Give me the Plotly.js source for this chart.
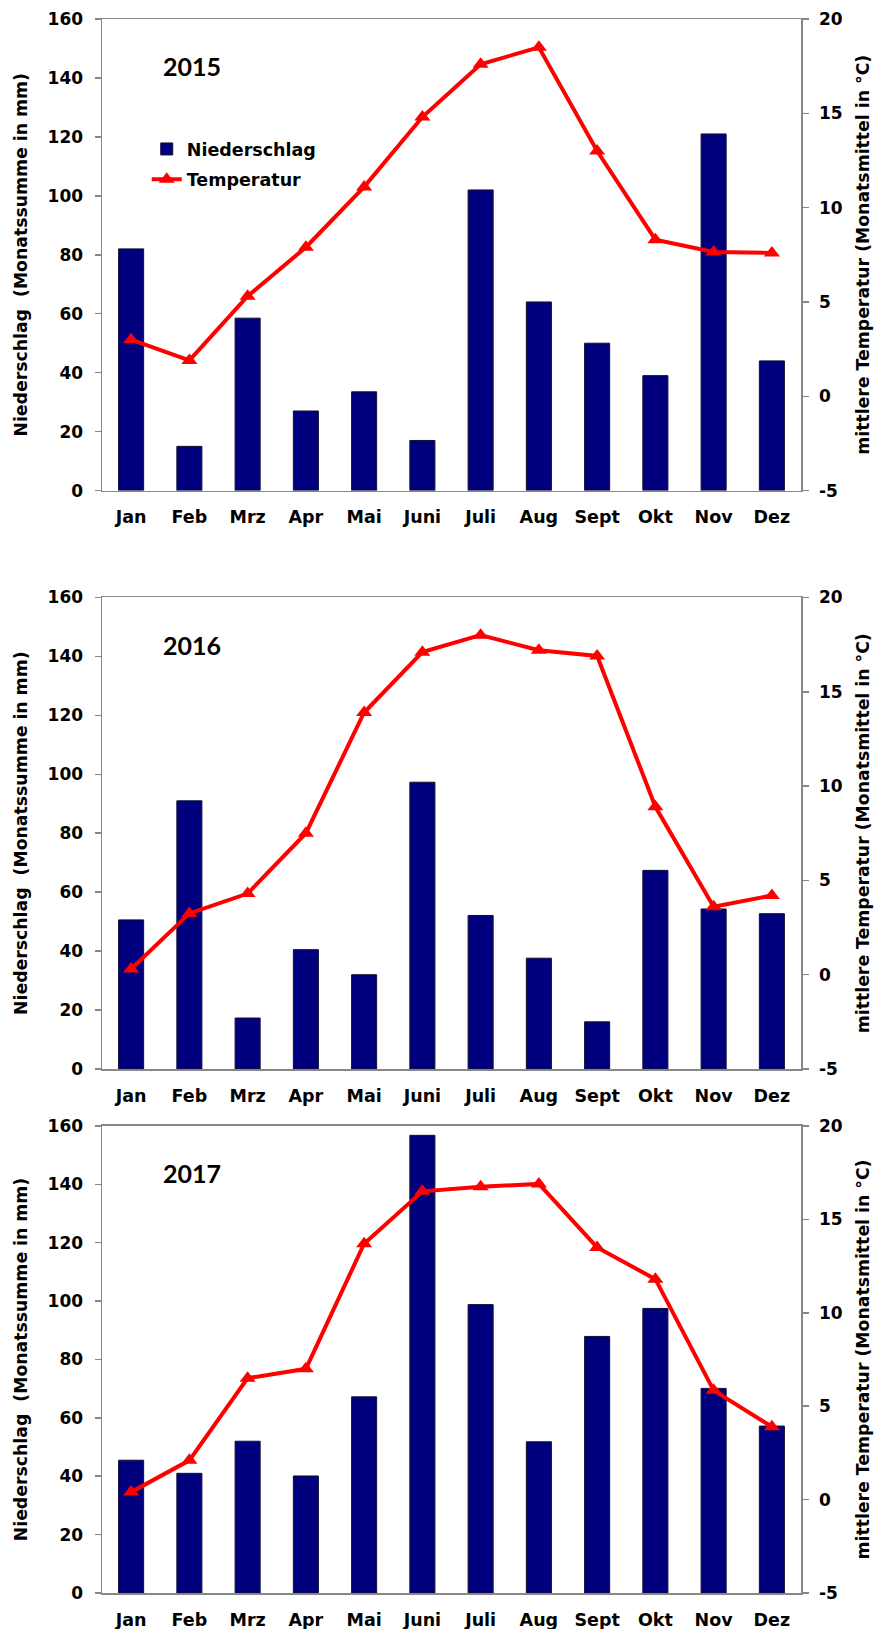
<!DOCTYPE html>
<html><head><meta charset="utf-8">
<script src="https://cdn.plot.ly/plotly-3.0.1.min.js"></script>
<style>html,body{margin:0;padding:0;background:#fff}</style>
</head><body><div id="chart" style="width:876px;height:1629px"></div>
<script>
const months = ['Jan','Feb','Mrz','Apr','Mai','Juni','Juli','Aug','Sept','Okt','Nov','Dez'];
const years = ['2015','2016','2017'];
const precip2015 = [82, 15, 58.5, 27, 33.5, 17, 102, 64, 50, 39, 121, 44];
const temp2015 = [3.0, 1.9, 5.3, 7.9, 11.1, 14.8, 17.6, 18.5, 13.0, 8.3, 7.65, 7.6];
const precip2016 = [50.6, 91, 17.3, 40.5, 32, 97.3, 52.1, 37.6, 16, 67.4, 54.3, 52.7];
const temp2016 = [0.3, 3.25, 4.3, 7.5, 13.9, 17.1, 18.0, 17.2, 16.9, 8.9, 3.6, 4.2];
const precip2017 = [45.5, 41, 52, 40.1, 67.2, 156.8, 98.8, 51.8, 87.9, 97.5, 70.1, 57.2];
const temp2017 = [0.4, 2.1, 6.5, 7.0, 13.7, 16.5, 16.75, 16.9, 13.5, 11.8, 5.85, 3.9];
const precip = [precip2015, precip2016, precip2017];
const temp = [temp2015, temp2016, temp2017];
const precipTicks = [0, 20, 40, 60, 80, 100, 120, 140, 160];
const tempTicks = [-5, 0, 5, 10, 15, 20];
const tempTickText = ['-5', '0', '5', '10', '15', '20'];
const leftTitle = 'Niederschlag  (Monatssumme in mm)';
const rightTitle = 'mittlere Temperatur (Monatsmittel in °C)';
const barName = 'Niederschlag';
const lineName = 'Temperatur';

const FONT = 'DejaVu Sans';
const axisGray = '#878787';
const domains = [[0.7004, 1], [0.3329, 0.6325], [0, 0.2967]];

const data = [];
const layout = {
  width: 876, height: 1629,
  margin: {l: 102, r: 75, t: 19, b: 36},
  paper_bgcolor: '#fff', plot_bgcolor: '#fff',
  bargap: 0.57,
  font: {family: FONT, size: 17.5, color: '#000', weight: 'bold'},
  showlegend: true,
  legend: {
    x: 0.064, y: 0.9288, xanchor: 'left', yanchor: 'top',
    bgcolor: 'rgba(0,0,0,0)', traceorder: 'grouped', tracegroupgap: 4.5,
    font: {family: FONT, size: 17.5, weight: 'bold', color: '#000'}
  },
  annotations: []
};

for (let i = 0; i < 3; i++) {
  const n = i === 0 ? '' : String(2 * i + 1);
  const n2 = String(2 * i + 2);
  const xa = 'x' + (i === 0 ? '' : String(i + 1));
  const ya = 'y' + n;
  const ya2 = 'y' + n2;
  data.push({
    type: 'bar', x: months, y: precip[i], name: barName,
    xaxis: xa, yaxis: ya, legendgroup: 'p', showlegend: i === 0,
    marker: {color: '#00007e', line: {color: '#101030', width: 1}}
  });
  data.push({
    type: 'scatter', mode: 'lines+markers', x: months, y: temp[i], name: lineName,
    xaxis: xa, yaxis: ya2, legendgroup: 't', showlegend: i === 0,
    line: {color: '#ff0000', width: 4},
    marker: {symbol: 'triangle-up', size: 14, color: '#ff0000'}
  });
  const xk = 'xaxis' + (i === 0 ? '' : String(i + 1));
  layout[xk] = {
    domain: [0, 1], anchor: ya, type: 'category', range: [-0.5, 11.5],
    showline: true, linecolor: axisGray, linewidth: 1.5, mirror: true,
    ticks: '', showgrid: false, zeroline: false, ticklabelstandoff: 10,
    tickfont: {family: FONT, size: 17.5, weight: 'bold', color: '#000'}
  };
  layout['yaxis' + n] = {
    domain: domains[i], anchor: xa, range: [0, 160],
    tickmode: 'array', tickvals: precipTicks,
    showline: true, linecolor: axisGray, linewidth: 1.5,
    ticks: 'outside', ticklen: 6, tickwidth: 1.5, tickcolor: axisGray,
    showgrid: false, zeroline: false, ticklabelstandoff: 8,
    tickfont: {family: FONT, size: 17, weight: 'bold', color: '#000'},
    title: {text: leftTitle, standoff: 15, font: {family: FONT, size: 17.3, weight: 'bold', color: '#000'}}
  };
  layout['yaxis' + n2] = {
    domain: domains[i], anchor: xa, overlaying: ya, side: 'right',
    range: [-5, 20], tickmode: 'array', tickvals: tempTicks, ticktext: tempTickText,
    showline: true, linecolor: axisGray, linewidth: 1.5,
    ticks: 'outside', ticklen: 6, tickwidth: 1.5, tickcolor: axisGray,
    showgrid: false, zeroline: false, ticklabelstandoff: 7,
    tickfont: {family: FONT, size: 17, weight: 'bold', color: '#000'},
    title: {text: rightTitle, standoff: 15, font: {family: FONT, size: 17.3, weight: 'bold', color: '#000'}}
  };
  layout.annotations.push({
    text: years[i], xref: xa + ' domain', yref: ya + ' domain',
    x: 0.1287, y: 0.9, xanchor: 'center', yanchor: 'middle', showarrow: false,
    font: {family: 'Lato', size: 25, weight: 'bold', color: '#000'}
  });
}

Plotly.newPlot('chart', data, layout, {displayModeBar: false, staticPlot: true});
</script></body></html>
